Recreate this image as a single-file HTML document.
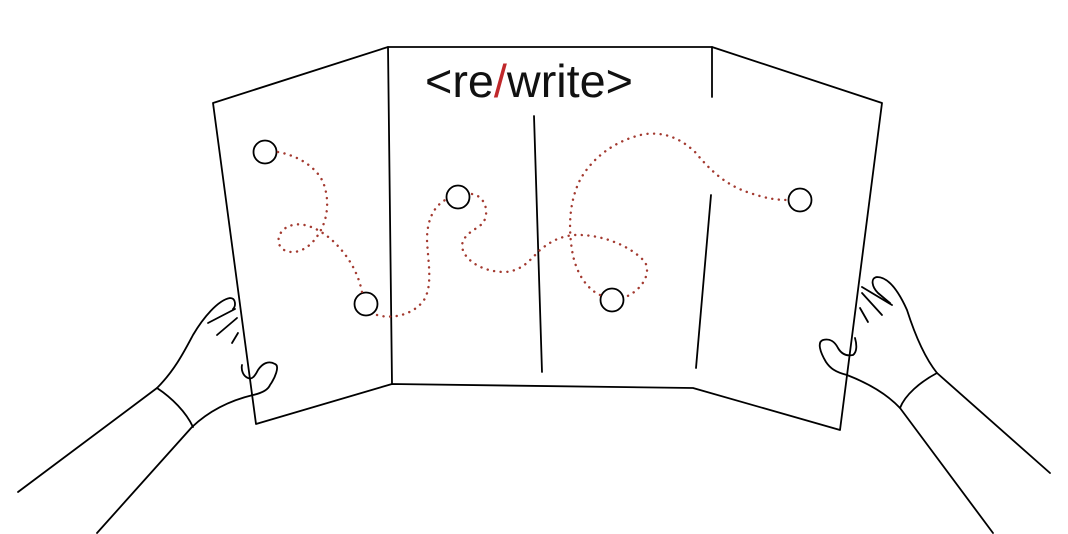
<!DOCTYPE html>
<html><head><meta charset="utf-8"><style>
html,body{margin:0;padding:0;background:#fff;}
svg{display:block;}
</style></head><body>
<svg width="1068" height="534" viewBox="0 0 1068 534" xmlns="http://www.w3.org/2000/svg">
<g fill="none" stroke="#000" stroke-width="1.8" stroke-linejoin="round" stroke-linecap="round">
<!-- paper outline -->
<path d="M213,103 L388,47 L712,47 L882,103 L840,430 L693,388 L392,384 L256,424 Z" fill="#fff"/>
<!-- folds -->
<line x1="388" y1="47" x2="392" y2="384"/>
<line x1="534" y1="116" x2="542" y2="372"/>
<line x1="712" y1="47" x2="712" y2="97"/>
<line x1="711" y1="195" x2="696" y2="368"/>
<!-- left hand -->
<path d="M18,492 L157,388 C175,370 185,350 193,335 C203,318 218,300 230,298 C236,298 236,306 233,309"/>
<path d="M97,533 L192,427 C210,410 232,400 253,395 C262,393 268,390 270,385 C275,378 280,366 275,364 C268,360 262,364 258,370 C255,376 252,380 248,378 C243,376 241,370 242,365"/>
<path d="M157,388 C172,398 186,412 193,427"/>
<line x1="208" y1="323" x2="235" y2="309"/>
<line x1="217" y1="335" x2="237" y2="318"/>
<line x1="232" y1="343" x2="238" y2="333"/>
<!-- right hand -->
<path d="M1050,473 L937,373 C925,358 915,335 907,310 C898,290 888,277 877,277 C870,278 872,287 878,293 L890,303"/>
<path d="M993,533 L900,408 C885,392 865,382 847,375 C835,372 830,368 826,362 C820,352 817,342 823,340 C830,338 835,342 838,348 C842,355 848,356 853,355 C857,352 857,345 855,338"/>
<path d="M937,373 C920,382 905,395 900,408"/>
<line x1="862" y1="287" x2="892" y2="305"/>
<line x1="862" y1="293" x2="882" y2="315"/>
<line x1="860" y1="308" x2="868" y2="322"/>
<!-- nodes -->
<circle cx="265" cy="152" r="11.5"/>
<circle cx="366" cy="304" r="11.5"/>
<circle cx="458" cy="197" r="11.5"/>
<circle cx="612" cy="300" r="11.5"/>
<circle cx="800" cy="200" r="11.5"/>
</g>
<!-- dotted path -->
<g fill="none" stroke="#a33a30" stroke-width="2.4" stroke-dasharray="0.1 6.5" stroke-linecap="round">
<path d="M278,152 C295,155 315,165 323,182 C330,200 328,220 318,235 C310,248 296,256 284,250 C274,244 278,228 293,225 C305,222 322,230 335,243 C348,256 358,272 362,292"/>
<path d="M377,315 C395,320 415,313 424,300 C433,285 428,262 427,240 C427,218 435,205 447,199"/>
<path d="M472,194 C485,196 490,212 483,223 C476,230 464,233 462,245 C462,258 480,272 505,272 C522,271 530,260 540,250 C550,242 560,236 575,235 C600,234 630,245 645,262 C652,275 640,292 623,298"/>
<path d="M600,295 C585,288 575,270 572,250 C568,225 570,200 580,180 C592,158 615,140 645,134 C665,132 680,138 695,152 C710,170 725,185 750,193 C765,198 775,200 788,200"/>
</g>
<text x="425" y="97" font-family="Liberation Sans, sans-serif" font-size="46" textLength="208" lengthAdjust="spacingAndGlyphs" fill="#111">&lt;re<tspan fill="#c0282b">/</tspan>write&gt;</text>
</svg>
</body></html>
